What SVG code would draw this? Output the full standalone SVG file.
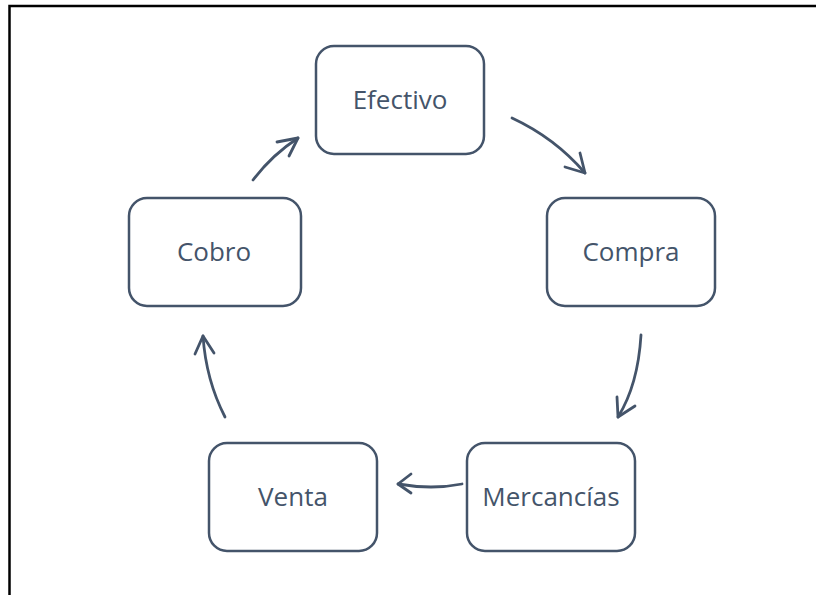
<svg xmlns="http://www.w3.org/2000/svg" width="816" height="595" viewBox="0 0 816 595">
<style>
.box{fill:#fff;stroke:#44546A;stroke-width:2.5}
.lbl{font-family:"Open Sans","Noto Sans",sans-serif;font-size:26px;fill:#44546A;text-anchor:middle}
.arr{fill:none;stroke:#44546A;stroke-width:2.8;stroke-linecap:round;stroke-linejoin:round}
</style>
<rect width="816" height="595" fill="#fff"/>
<path d="M9.5,595 V6 H816" fill="none" stroke="#000" stroke-width="2.5"/>
<g id="efectivo"><rect class="box" x="316" y="46" width="168" height="108" rx="18"/><text class="lbl" x="400" y="109">Efectivo</text></g>
<g id="compra"><rect class="box" x="547" y="198" width="168" height="108" rx="18"/><text class="lbl" x="631" y="261">Compra</text></g>
<g id="mercancias"><rect class="box" x="467" y="443" width="168" height="108" rx="18"/><text class="lbl" x="551" y="506">Mercancías</text></g>
<g id="venta"><rect class="box" x="209" y="443" width="168" height="108" rx="18"/><text class="lbl" x="293" y="506">Venta</text></g>
<g id="cobro"><rect class="box" x="129" y="198" width="172" height="108" rx="18"/><text class="lbl" x="214" y="261">Cobro</text></g>
<g id="connectors">
<path class="arr" d="M512,118 Q555,138 585,173"/><path class="arr" d="M565,167 L585,173 L580,153"/>
<path class="arr" d="M641,335 Q638,385 618,417"/><path class="arr" d="M617,397 L618,417 L635,406"/>
<path class="arr" d="M462,484 Q432,490 398,484"/><path class="arr" d="M411,474 L398,484 L411,493"/>
<path class="arr" d="M225,417 Q206,380 203,336"/><path class="arr" d="M195,354 L203,336 L214,353"/>
<path class="arr" d="M253,180 Q272,155 298,138"/><path class="arr" d="M277,142 L298,138 L289,156"/>
</g>
</svg>
